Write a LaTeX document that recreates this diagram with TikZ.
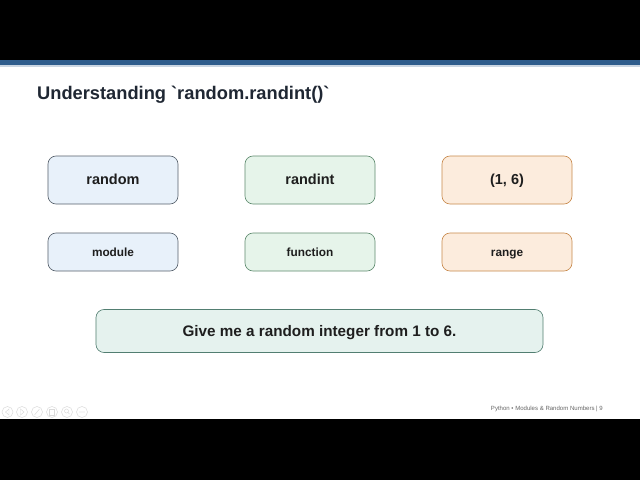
\documentclass[tikz,border=0pt]{standalone}
\usepackage{fontspec}
\setmainfont{Liberation Sans}
\usetikzlibrary{positioning}
\definecolor{slideBar}{HTML}{2F5D8C}
\definecolor{slideTitle}{HTML}{1F2733}
\definecolor{slideText}{HTML}{1E1E1E}
\definecolor{modFill}{HTML}{E8F1FA}
\definecolor{modBorder}{HTML}{56606B}
\definecolor{funFill}{HTML}{E6F4EA}
\definecolor{funBorder}{HTML}{5E8A6E}
\definecolor{rngFill}{HTML}{FCECDD}
\definecolor{rngBorder}{HTML}{C8894C}
\definecolor{sayFill}{HTML}{E5F2EE}
\definecolor{sayBorder}{HTML}{527E71}
\definecolor{navGrey}{HTML}{DADADA}

\begin{document}
\begin{tikzpicture}[
        x=0.5mm, y=-0.5mm,
        box/.style={
            rounded corners=4mm,
            line width=0.9pt,
            inner sep=0pt,
            outer sep=0pt,
            align=center,
            text=slideText
        },
        bigbox/.style={
            box,
            minimum width=65mm,
            minimum height=24mm,
            text height=18.6pt,
            text depth=4.4pt,
            font=\fontsize{20.6}{24}\selectfont\bfseries
        },
        smallbox/.style={
            box,
            minimum width=65mm,
            minimum height=19mm,
            text height=15.2pt,
            text depth=3.6pt,
            font=\fontsize{16.8}{20}\selectfont\bfseries
        },
        modbox/.style={draw=modBorder, fill=modFill},
        funbox/.style={draw=funBorder, fill=funFill},
        rngbox/.style={draw=rngBorder, fill=rngFill},
        navicon/.style={draw=navGrey, line width=0.7pt}
    ]

    % slide frame
    \useasboundingbox (0,0) rectangle (640,480);
    \fill[black] (0,0) rectangle (640,60);
    \fill[white] (0,60) rectangle (640,419);
    \fill[black] (0,419) rectangle (640,480);
    \fill[slideBar] (0,60) rectangle (640,65);
    \fill[slideBar!25] (0,65) rectangle (640,67);

    \node[anchor=west, font=\fontsize{26}{30}\selectfont\bfseries, text=slideTitle, inner sep=0pt]
        (title) at (37,95) {Understanding \textasciigrave random.randint()\textasciigrave};

    % top row
    \node[bigbox, modbox] (random) at (113,180) {random};
    \node[bigbox, funbox] (randint) at (310,180) {randint};
    \node[bigbox, rngbox] (args) at (507,180) {(1, 6)};

    % bottom row
    \node[smallbox, modbox] (module) at (113,252) {module};
    \node[smallbox, funbox] (function) at (310,252) {function};
    \node[smallbox, rngbox] (range) at (507,252) {range};

    \node[box, draw=sayBorder, fill=sayFill, minimum width=223.5mm, minimum height=21.5mm,
        text height=19.6pt, text depth=4.6pt,
        font=\fontsize{21.7}{25}\selectfont\bfseries] (meaning) at (319.5,331)
        {Give me a random integer from 1 to 6.};

    \node[anchor=east, font=\fontsize{8.6}{10}\selectfont, text=black!60, inner sep=0pt]
        (footer) at (603,409) {Python • Modules \& Random Numbers | 9};

    % navigation buttons
    \foreach \i/\cx in {1/7.5,2/22,3/37,4/52,5/67,6/82}
        \draw[navicon] (\cx,412) circle (5.5);
    \draw[navicon] (9,409) -- (5.5,412) -- (9,415) -- cycle;
    \draw[navicon] (20.5,409) -- (24,412) -- (20.5,415) -- cycle;
    \draw[navicon] (34.5,415) -- (39.5,409);
    \draw[navicon] (49.5,409.5) rectangle (54.5,415);
    \draw[navicon] (66.5,411) circle (2) (68,412.5) -- (69.5,414);
    \foreach \dx in {-2,0,2}
        \fill[navGrey] (82+\dx,412) circle (0.7);

\end{tikzpicture}
\end{document}
